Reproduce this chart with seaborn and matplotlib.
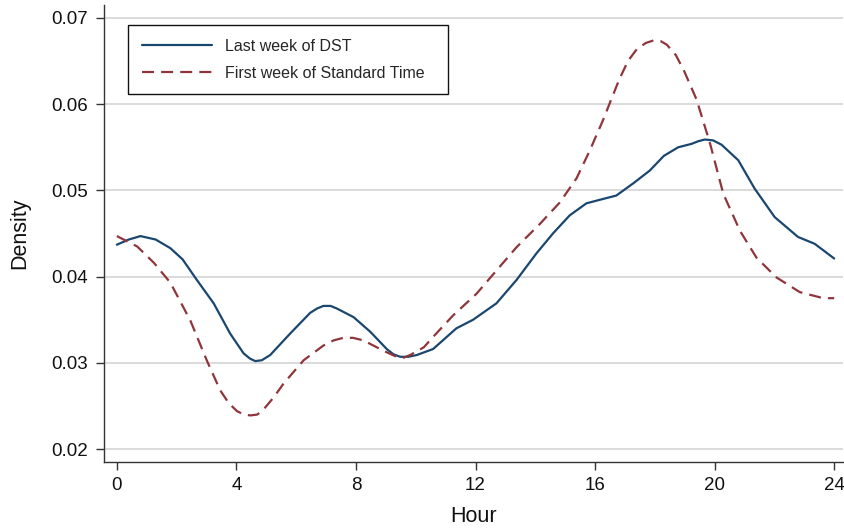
import matplotlib
matplotlib.use("Agg")
import matplotlib.pyplot as plt
import seaborn as sns
import pandas as pd

# Kernel density of event hour, by week
dst_hours = [0.0, 0.4, 0.79, 1.3, 1.79, 2.2, 2.68, 3.24, 3.79, 4.24, 4.45, 4.63,
             4.85, 5.13, 5.8, 6.47, 6.7, 6.91, 7.15, 7.36, 7.92, 8.48, 9.03, 9.25,
             9.48, 9.75, 10.03, 10.58, 11.36, 11.92, 12.7, 13.37, 14.04, 14.59,
             15.15, 15.71, 16.26, 16.71, 17.27, 17.83, 18.3, 18.78, 19.23, 19.45,
             19.67, 19.95, 20.23, 20.79, 21.34, 22.01, 22.79, 23.35, 24.0]
dst_density = [0.0437, 0.0443, 0.0447, 0.0443, 0.0433, 0.0420, 0.0396, 0.0369,
               0.0334, 0.0311, 0.0305, 0.0302, 0.0303, 0.0309, 0.0334, 0.0358,
               0.0363, 0.0366, 0.0366, 0.0363, 0.0353, 0.0336, 0.0316, 0.0310,
               0.0307, 0.0307, 0.0309, 0.0316, 0.0340, 0.0350, 0.0369, 0.0396,
               0.0427, 0.0450, 0.0471, 0.0485, 0.0490, 0.0494, 0.0508, 0.0523,
               0.0540, 0.0550, 0.0554, 0.0557, 0.0559, 0.0558, 0.0553, 0.0535,
               0.0502, 0.0469, 0.0446, 0.0438, 0.0421]

st_hours = [0.0, 0.68, 1.24, 1.79, 2.46, 3.02, 3.46, 3.75, 4.02, 4.25, 4.47, 4.7,
            4.91, 5.25, 5.58, 6.25, 6.91, 7.25, 7.58, 7.9, 8.25, 8.92, 9.36, 9.6,
            9.81, 10.27, 10.58, 11.25, 12.03, 12.7, 13.37, 14.15, 14.82, 15.38,
            15.82, 16.26, 16.8, 17.1, 17.4, 17.7, 17.96, 18.2, 18.4, 18.7, 18.96,
            19.4, 19.85, 20.29, 20.85, 21.4, 22.07, 22.85, 23.63, 24.0]
st_density = [0.0447, 0.0435, 0.0416, 0.0393, 0.0349, 0.0302, 0.0268, 0.0253,
              0.0244, 0.0240, 0.0239, 0.0240, 0.0246, 0.0260, 0.0276, 0.0303,
              0.0320, 0.0326, 0.0329, 0.0329, 0.0326, 0.0314, 0.0307, 0.0306,
              0.0309, 0.0318, 0.0330, 0.0355, 0.0380, 0.0407, 0.0434, 0.0461,
              0.0486, 0.0514, 0.0546, 0.0581, 0.0628, 0.0650, 0.0664, 0.0671,
              0.0674, 0.0673, 0.0669, 0.0657, 0.0640, 0.0605, 0.0554, 0.0496,
              0.0453, 0.0422, 0.0399, 0.0382, 0.0375, 0.0375]

series_names = ["Last week of DST", "First week of Standard Time"]
x_ticks = [0, 4, 8, 12, 16, 20, 24]
y_ticks = [0.02, 0.03, 0.04, 0.05, 0.06, 0.07]
y_tick_labels = ["0.02", "0.03", "0.04", "0.05", "0.06", "0.07"]

df = pd.concat([
    pd.DataFrame({"Hour": dst_hours, "Density": dst_density, "week": series_names[0]}),
    pd.DataFrame({"Hour": st_hours, "Density": st_density, "week": series_names[1]}),
], ignore_index=True)

sns.set_theme(style="white")
plt.rcParams["font.family"] = ["Liberation Sans", "DejaVu Sans"]

fig = plt.figure(figsize=(8.44, 5.29), dpi=100)
ax = fig.add_axes([0.1232, 0.1267, 0.8758, 0.8638])

palette = {series_names[0]: "#1a476f", series_names[1]: "#90353b"}
dashes = {series_names[0]: "", series_names[1]: (5.4, 3.2)}
sns.lineplot(data=df, x="Hour", y="Density", hue="week", style="week",
             palette=palette, dashes=dashes, linewidth=1.6, sort=False,
             estimator=None, ax=ax)
for line in ax.get_lines():
    line.set_solid_joinstyle("round")
    line.set_dash_joinstyle("round")

ax.set_xlim(-0.43, 24.3)
ax.set_ylim(0.0185, 0.0715)
ax.set_xticks(x_ticks)
ax.set_xticklabels([str(t) for t in x_ticks])
ax.set_yticks(y_ticks)
ax.set_yticklabels(y_tick_labels)
ax.yaxis.grid(True, color="#d4d4d4", linewidth=1.2)
ax.xaxis.grid(False)
ax.set_axisbelow(True)

for side in ["top", "right"]:
    ax.spines[side].set_visible(False)
for side in ["left", "bottom"]:
    ax.spines[side].set_color("#333333")
    ax.spines[side].set_linewidth(1.0)

ax.tick_params(axis="both", which="major", direction="out", length=5.5,
               width=1.0, color="#333333", labelsize=13.5, labelcolor="#111111",
               left=True, bottom=True)
ax.tick_params(axis="x", pad=5)
ax.tick_params(axis="y", pad=6)
ax.set_xlabel("Hour", fontsize=15.5, color="#111111", labelpad=9)
ax.set_ylabel("Density", fontsize=15.5, color="#111111", labelpad=15)

leg = ax.legend(loc="upper left", bbox_to_anchor=(0.0324, 0.0, 0.4324, 0.956),
                mode="expand", borderaxespad=0, frameon=True, fancybox=False,
                fontsize=11.5, handlelength=4.4, handletextpad=0.85,
                labelspacing=0.75, borderpad=0.85, title=None)
leg.get_frame().set_edgecolor("#111111")
leg.get_frame().set_linewidth(1.0)
leg.get_frame().set_alpha(1.0)
for line in leg.get_lines():
    line.set_linewidth(1.6)

fig.savefig("out.png", dpi=100)
